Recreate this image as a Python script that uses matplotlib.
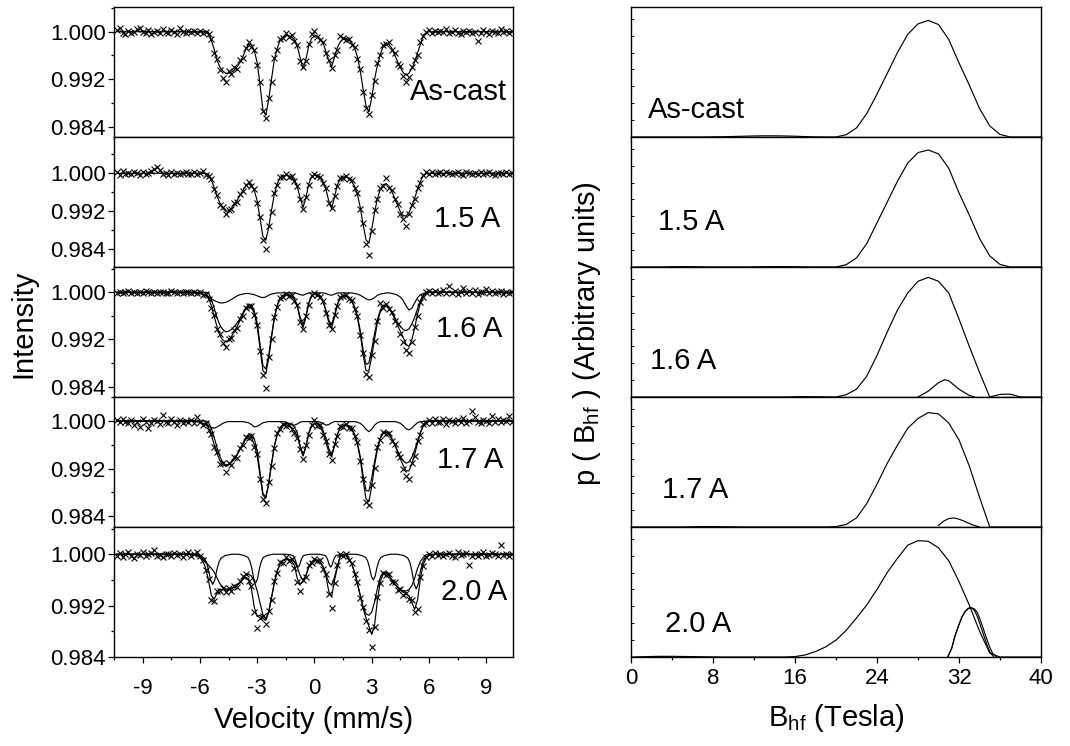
import numpy as np
import matplotlib
matplotlib.use("Agg")
import matplotlib.pyplot as plt
from matplotlib.ticker import MultipleLocator, FixedLocator, FormatStrFormatter

plt.rcParams['font.family'] = ['Liberation Sans', 'DejaVu Sans']
plt.rcParams['mathtext.fontset'] = 'custom'
plt.rcParams['mathtext.rm'] = 'Liberation Sans'
plt.rcParams['mathtext.it'] = 'Liberation Sans:italic'
plt.rcParams['axes.unicode_minus'] = False

# ---------------- data ----------------
samples = ["As-cast", "1.5 A", "1.6 A", "1.7 A", "2.0 A"]

# Velocity channels (mm/s); fit curves cover channels 26..112
velocity = np.linspace(-10.35, 10.35, 139)
FIT_A, FIT_B = 26, 113

# Absorption (1 - transmission) in units of 1e-4
ascast_data = [-3, -6, 2, 4, -2, 3, 1, -4, -7, 0, 2, -3, 4, 1, -2, 3, -5, 0, 2, -3, 1, 4, -6, 0, 2, -1] + [
    1, -2, 3, -1, 2, 0, 4, 13, 36, 46,
    64, 78, 84, 66, 72, 60, 63, 48, 45, 27,
    17, 26, 30, 56, 85, 134, 146, 111, 84, 44,
    31, 12, 11, 3, 9, 6, 16, 22, 49, 60,
    50, 21, 4, -1, 9, 14, 17, 36, 47, 62,
    40, 30, 8, 10, 14, 12, 22, 25, 46, 63,
    101, 128, 139, 106, 83, 52, 40, 23, 21, 18,
    31, 36, 54, 58, 74, 84, 77, 60, 48, 39,
    17, 8, 0, -3, 2, -1, 1] + [-2, 1, -4, 3, 0, -3, 2, 4, -1, 1, -2, 3, 0, 15, 2, -3, 1, 4, -2, 0, 3, -4, 1, -2, 2, -1]
ascast_fit = [
    0, 0, 0, 0, 0, 0, 1, 15, 30, 48,
    60, 66, 70, 70, 68, 65, 59, 52, 42, 30,
    21, 22, 32, 52, 90, 132, 141, 115, 80, 47,
    28, 14, 9, 6, 7, 9, 13, 24, 44, 62,
    47, 24, 11, 8, 7, 12, 19, 33, 49, 59,
    43, 27, 17, 13, 11, 14, 19, 27, 42, 66,
    97, 125, 135, 111, 80, 56, 38, 25, 19, 21,
    28, 39, 50, 61, 69, 73, 70, 62, 51, 36,
    21, 6, 2, 0, 0, 0, 0]

a15_data = [-2, 3, -4, 1, 0, 2, -3, -1, 4, -2, 1, 0, -5, -9, -14, -6, 2, 0, 3, -2, 1, -1, 2, 0, -3, 1] + [
    1, -2, 2, 0, -4, 3, 6, 12, 33, 45,
    66, 72, 85, 77, 76, 62, 60, 44, 38, 24,
    19, 27, 33, 62, 92, 140, 160, 112, 81, 42,
    25, 8, 7, 2, 7, 6, 17, 26, 55, 76,
    49, 24, 5, 1, 6, 7, 21, 31, 62, 73,
    47, 26, 9, 10, 5, 12, 15, 30, 41, 75,
    104, 148, 172, 121, 78, 55, 31, 26, 10, 30,
    36, 55, 64, 85, 96, 112, 86, 66, 55, 31,
    20, 3, -3, 1, -2, 2, 0] + [-3, 1, -2, 0, 2, -1, -3, 1, 3, -2, 0, 2, -1, 1, -3, 2, 0, -2, 1, 3, -1, 0, 2, -2, 1, 0]
a15_fit = [
    0, 0, 0, 0, 0, 0, 3, 14, 30, 48,
    63, 74, 80, 79, 74, 66, 57, 47, 36, 26,
    21, 24, 36, 58, 95, 133, 141, 115, 78, 44,
    22, 10, 6, 4, 5, 8, 14, 28, 52, 72,
    52, 22, 8, 4, 4, 9, 18, 34, 58, 74,
    50, 24, 12, 8, 7, 10, 17, 27, 44, 72,
    108, 140, 147, 118, 82, 53, 34, 24, 22, 27,
    38, 52, 67, 81, 89, 90, 83, 69, 52, 34,
    17, 5, 1, 0, 0, 0, 0]

a16_data = [1, -1, 2, 0, -2, 1, 0, 2, -1, 1, -2, 0, 1, -1, 2, 0, -1, 1, 2, -2, 0, 1, -1, 2, 0, -1] + [
    1, -1, 2, 0, 4, 3, 12, 26, 38, 62,
    70, 86, 93, 79, 77, 64, 61, 46, 40, 26,
    24, 23, 38, 55, 100, 140, 162, 110, 80, 42,
    25, 9, 8, 3, 6, 5, 14, 22, 50, 63,
    40, 21, 4, 1, 5, 8, 14, 35, 55, 63,
    39, 23, 8, 7, 4, 11, 13, 28, 41, 73,
    103, 138, 143, 106, 82, 49, 18, 26, 20, 28,
    33, 48, 54, 70, 84, 98, 103, 84, 58, 40,
    16, 8, 0, -2, 1, -3, 2] + [0, -4, 2, -10, 1, -3, 3, 0, -7, 2, -2, 1, -4, 3, -1, 0, -5, 2, -3, 1, 0, -2, 3, -1, 1, 0]
a16_fit = [
    0, 0, 1, 2, 3, 5, 9, 23, 41, 59,
    74, 81, 84, 81, 75, 67, 58, 48, 38, 28,
    23, 25, 36, 58, 96, 133, 138, 113, 77, 44,
    23, 11, 6, 4, 5, 7, 12, 24, 46, 60,
    43, 19, 7, 3, 3, 7, 16, 32, 51, 60,
    42, 21, 10, 6, 6, 9, 15, 26, 43, 70,
    106, 133, 133, 109, 79, 51, 33, 24, 22, 26,
    35, 45, 56, 66, 77, 88, 92, 81, 60, 37,
    18, 6, 2, 0, 0, 0, 0]
a16_main = [
    0, 0, 0, 0, 0, 0, 1, 12, 27, 43,
    56, 63, 67, 66, 63, 58, 52, 44, 35, 26,
    21, 22, 32, 52, 88, 124, 130, 108, 74, 42,
    22, 10, 5, 3, 4, 6, 11, 22, 42, 55,
    40, 18, 6, 2, 2, 6, 15, 30, 47, 55,
    39, 20, 9, 5, 5, 8, 14, 24, 40, 65,
    98, 122, 120, 97, 70, 46, 30, 22, 21, 25,
    33, 42, 51, 58, 63, 65, 62, 54, 42, 28,
    14, 4, 1, 0, 0, 0, 0]
a16_minor = [
    0, 0, 1, 2, 3, 5, 8, 11, 14, 16,
    18, 18, 17, 15, 12, 9, 6, 4, 3, 2,
    2, 3, 4, 6, 8, 9, 8, 5, 3, 2,
    1, 1, 1, 1, 1, 1, 1, 2, 4, 5,
    3, 1, 1, 1, 1, 1, 1, 2, 4, 5,
    3, 1, 1, 1, 1, 1, 1, 2, 3, 5,
    8, 11, 13, 12, 9, 5, 3, 2, 1, 1,
    2, 3, 5, 8, 14, 23, 30, 27, 18, 9,
    4, 2, 1, 0, 0, 0, 0]

a17_data = [-2, 2, -4, 1, 4, -1, 6, 2, 10, -3, 1, 12, 3, -2, 0, 5, -10, 2, 4, -3, 1, 6, -2, 3, 0, 2] + [
    -1, 3, -6, 1, 6, 3, 15, 22, 44, 52,
    73, 70, 86, 71, 74, 60, 62, 45, 41, 27,
    28, 25, 44, 56, 97, 131, 138, 103, 76, 45,
    20, 14, 5, 8, 6, 14, 20, 29, 47, 64,
    41, 24, 6, -1, 8, 7, 23, 33, 56, 66,
    39, 26, 9, 10, 5, 12, 12, 26, 36, 68,
    97, 136, 141, 107, 79, 44, 32, 18, 22, 20,
    33, 38, 56, 61, 80, 92, 97, 70, 59, 34,
    23, 5, 4, -2, 3, -4, 1] + [2, -3, 5, -1, 0, 4, -2, 1, -5, 3, 0, -16, -6, 2, 4, -1, 0, 3, -8, 1, -3, 2, -2, 0, -9, 1]
a17_fit = [
    0, 0, 1, 2, 4, 6, 11, 24, 40, 55,
    67, 74, 76, 74, 70, 64, 57, 48, 39, 31,
    25, 28, 40, 59, 92, 125, 130, 107, 73, 43,
    23, 12, 7, 6, 8, 12, 17, 25, 44, 59,
    44, 21, 9, 5, 5, 10, 20, 36, 52, 60,
    42, 23, 12, 8, 7, 9, 14, 23, 39, 64,
    100, 131, 136, 110, 75, 47, 29, 21, 19, 22,
    30, 40, 52, 64, 75, 84, 84, 73, 56, 37,
    20, 8, 2, 0, 0, 0, 0]
a17_main = [
    0, 0, 0, 0, 0, 0, 2, 13, 28, 45,
    60, 70, 74, 73, 69, 63, 56, 47, 38, 29,
    22, 22, 30, 50, 86, 122, 128, 106, 72, 42,
    22, 11, 6, 4, 4, 6, 10, 20, 42, 58,
    43, 20, 8, 4, 4, 8, 16, 29, 46, 57,
    41, 22, 11, 7, 6, 8, 13, 22, 37, 60,
    92, 117, 118, 96, 68, 44, 28, 20, 18, 21,
    29, 39, 50, 60, 67, 71, 69, 61, 49, 34,
    19, 7, 2, 0, 0, 0, 0]
a17_minor = [
    0, 0, 1, 2, 4, 6, 9, 11, 12, 10,
    7, 4, 2, 1, 1, 1, 1, 1, 1, 2,
    3, 6, 10, 9, 6, 3, 2, 1, 1, 1,
    1, 1, 1, 2, 4, 6, 7, 5, 2, 1,
    1, 1, 1, 1, 1, 2, 4, 7, 6, 3,
    1, 1, 1, 1, 1, 1, 1, 1, 2, 4,
    8, 14, 18, 14, 7, 3, 1, 1, 1, 1,
    1, 1, 2, 4, 8, 13, 15, 12, 7, 3,
    1, 1, 0, 0, 0, 0, 0]

a20_data = [3, -2, 5, 0, -3, 2, 6, -1, 1, -4, 3, 0, -2, -6, 2, 1, 4, 0, -1, 3, -2, 1, 0, 4, -1, -3] + [
    2, -1, -3, 3, 9, 25, 38, 72, 73, 57,
    58, 52, 59, 53, 57, 49, 51, 42, 34, 31,
    42, 50, 90, 115, 99, 96, 108, 88, 72, 41,
    29, 12, 13, 5, 10, 8, 21, 44, 58, 40,
    36, 17, 14, 7, 11, 9, 23, 31, 62, 84,
    45, 17, 0, 3, -1, 9, 13, 31, 43, 68,
    82, 104, 118, 145, 113, 66, 45, 29, 32, 30,
    44, 43, 56, 54, 63, 60, 69, 72, 90, 85,
    35, 19, 4, 0, 3, -2, 1] + [-1, 3, 0, -2, 2, 4, -3, 1, 0, -2, 17, 2, -1, 3, 0, -4, 2, 1, -2, 0, 3, -14, 1, -1, 2, 0]
a20_fit = [
    0, 0, 2, 5, 11, 21, 41, 64, 70, 60,
    55, 55, 56, 55, 53, 51, 48, 45, 39, 36,
    38, 54, 83, 97, 95, 100, 103, 91, 68, 44,
    26, 15, 10, 8, 8, 11, 17, 38, 47, 43,
    34, 20, 12, 9, 9, 12, 20, 34, 58, 66,
    41, 20, 3, 1, 2, 7, 15, 28, 46, 65,
    85, 99, 112, 125, 110, 71, 42, 31, 29, 33,
    40, 46, 52, 56, 59, 62, 65, 75, 86, 71,
    38, 16, 6, 2, 1, 0, 0]
a20_broad = [
    0, 0, 1, 3, 7, 12, 17, 22, 28, 37,
    46, 51, 54, 54, 53, 51, 48, 44, 38, 33,
    31, 34, 43, 57, 76, 94, 100, 90, 68, 44,
    26, 15, 10, 8, 8, 9, 12, 20, 33, 40,
    33, 20, 12, 9, 9, 12, 19, 31, 44, 48,
    36, 18, 3, 1, 2, 7, 15, 28, 45, 64,
    82, 93, 95, 90, 74, 53, 36, 28, 28, 33,
    40, 46, 51, 55, 57, 57, 55, 49, 37, 22,
    11, 5, 1, 0, 0, 0, 0]
# narrow sextet component of the 2.0 A sample (own velocity points)
a20_sharp_v = [-10.35,
    -6.32, -5.99, -5.77, -5.66, -5.55, -5.44, -5.33, -5.22, -5.11, -5.0, -4.89, -4.67, -4.34,
    -3.98, -3.68, -3.48, -3.38, -3.28, -3.18, -3.08, -2.98, -2.88, -2.78, -2.68, -2.48, -2.18,
    -1.48, -1.27, -1.13, -1.06, -0.99, -0.92, -0.85, -0.78, -0.71, -0.64, -0.57, -0.43, -0.22,
    0.22, 0.43, 0.57, 0.64, 0.71, 0.78, 0.85, 0.92, 0.99, 1.06, 1.13, 1.27, 1.48,
    2.18, 2.48, 2.68, 2.78, 2.88, 2.98, 3.08, 3.18, 3.28, 3.38, 3.48, 3.68, 3.98,
    4.34, 4.67, 4.89, 5.0, 5.11, 5.22, 5.33, 5.44, 5.55, 5.66, 5.77, 5.99, 6.32,
    10.35]
a20_sharp = [0,
    0, 2, 6, 12, 24, 40, 47, 40, 24, 12, 6, 2, 0,
    0, 2, 5, 11, 22, 38, 45, 38, 22, 11, 5, 2, 0,
    0, 1, 2, 5, 10, 17, 20, 17, 10, 5, 2, 1, 0,
    0, 1, 2, 5, 10, 17, 20, 17, 10, 5, 2, 1, 0,
    0, 2, 5, 10, 20, 34, 40, 34, 20, 10, 5, 2, 0,
    0, 2, 6, 13, 27, 46, 54, 46, 27, 13, 6, 2, 0,
    0]

# Hyperfine field distributions  p(B_hf), arbitrary units
bhf = np.arange(0, 41)
p_ascast = [0, 0, 0, 0, 0, 0, 0, 0, 0.001, 0.002, 0.004, 0.006, 0.008, 0.009, 0.009, 0.008, 0.006, 0.003, 0.001, 0, 0,
            0.018, 0.07, 0.18, 0.33, 0.49, 0.65, 0.79, 0.87, 0.897, 0.865, 0.75, 0.57, 0.40, 0.22, 0.085, 0.02, 0, 0, 0, 0]
p_15 = [0, 0, 0, 0, 0.002, 0.003, 0.002, 0.001, 0, 0, 0, 0, 0.001, 0.002, 0.003, 0.003, 0.002, 0.001, 0, 0, 0,
        0.018, 0.07, 0.18, 0.34, 0.50, 0.66, 0.80, 0.88, 0.90, 0.87, 0.76, 0.57, 0.40, 0.22, 0.085, 0.02, 0, 0, 0, 0]
p_16 = [0, 0, 0, 0, 0, 0, 0, 0, 0, 0, 0, 0, 0, 0, 0, 0, 0.002, 0.003, 0.002, 0.001, 0,
        0.018, 0.06, 0.16, 0.32, 0.50, 0.67, 0.80, 0.89, 0.92, 0.89, 0.80, 0.60, 0.39, 0.19, 0.0, 0.02, 0.022, 0, 0, 0]
p_16_b_b = [28, 29, 30, 30.6, 31, 32, 33, 33.5]
p_16_b = [0, 0.045, 0.11, 0.133, 0.125, 0.06, 0.012, 0]
p_17 = [0, 0, 0, 0, 0, 0, 0.002, 0.003, 0.003, 0.002, 0.001, 0, 0, 0, 0, 0, 0, 0, 0, 0, 0.003,
        0.02, 0.07, 0.18, 0.33, 0.49, 0.63, 0.76, 0.835, 0.88, 0.87, 0.80, 0.67, 0.47, 0.23, 0.0, 0, 0, 0, 0, 0]
p_17_b_b = [30, 30.5, 31, 31.5, 32, 32.5, 33, 33.5, 34]
p_17_b = [0.012, 0.045, 0.065, 0.07, 0.06, 0.045, 0.027, 0.012, 0.0]
p_20 = [0, 0.002, 0.004, 0.005, 0.005, 0.004, 0.003, 0.002, 0.001, 0, 0, 0, 0, 0, 0, 0, 0.003,
        0.016, 0.042, 0.078, 0.13, 0.205, 0.30, 0.40, 0.52, 0.65, 0.76, 0.86, 0.895, 0.89, 0.84, 0.74, 0.58,
        0.40, 0.20, 0.03, 0, 0, 0, 0, 0]
p_20_b_b = [30.9, 31.3, 31.6, 32.0, 32.3, 32.6, 32.9, 33.2, 33.5, 33.8, 34.1, 34.4, 34.7, 35.0, 35.4]
p_20_b = [0, 0.07, 0.16, 0.25, 0.31, 0.35, 0.375, 0.38, 0.36, 0.31, 0.24, 0.17, 0.10, 0.04, 0]
p_20_c_b = [30.9, 31.3, 31.6, 32.0, 32.3, 32.6, 32.9, 33.2, 33.5, 33.8, 34.1, 34.4, 34.7, 35.0, 35.3, 35.7]
p_20_c = [0, 0.07, 0.16, 0.25, 0.31, 0.35, 0.372, 0.378, 0.37, 0.34, 0.28, 0.21, 0.14, 0.075, 0.025, 0]

# ---------------- layout ----------------
W, H = 1070, 746
fig = plt.figure(figsize=(W / 100, H / 100), dpi=100)


def fx(px):
    return px / W


def fy(py):
    return 1 - py / H


def absorb_to_I(a):
    return 1 - np.asarray(a, float) * 1e-4


left_sets = [
    (ascast_data, [ascast_fit]),
    (a15_data, [a15_fit]),
    (a16_data, [a16_main, a16_minor, a16_fit]),
    (a17_data, [a17_main, a17_minor, a17_fit]),
    (a20_data, [a20_broad, a20_fit]),
]
left_ylims = [(0.98226, 1.00416), (0.98027, 1.00764), (0.98225, 1.00429),
              (0.98215, 1.00404), (0.984, 1.00424)]
left_label_pos = [(507, 100), (500, 227), (502, 337), (503, 468), (507, 600)]

right_sets = [
    [(bhf, p_ascast)],
    [(bhf, p_15)],
    [(bhf, p_16), (p_16_b_b, p_16_b)],
    [(bhf, p_17), (p_17_b_b, p_17_b)],
    [(bhf, p_20), (p_20_b_b, p_20_b), (p_20_c_b, p_20_c)],
]
right_label_pos = [(648, 118), (658, 230), (650, 369), (662, 498), (665, 632)]

LBL = 21
TCK = 16

for i in range(5):
    top = 7 + 130 * i
    bottom_frac = fy(top + 130)
    hfrac = 130 / H

    # ---- left: Mossbauer spectrum ----
    ax = fig.add_axes([fx(114), bottom_frac, 399 / W, hfrac])
    data, fits = left_sets[i]
    assert len(data) == 139
    ax.plot(velocity, absorb_to_I(data), linestyle='none', marker='x', ms=4.4,
            mew=0.8, color='black', zorder=2)
    for f in fits:
        assert len(f) == FIT_B - FIT_A
        full = [0] * FIT_A + list(f) + [0] * (139 - FIT_B)
        ax.plot(velocity, absorb_to_I(full), color='black', lw=0.85, zorder=3)
    if i == 4:
        assert len(a20_sharp_v) == len(a20_sharp)
        ax.plot(a20_sharp_v, absorb_to_I(a20_sharp), color='black', lw=0.85, zorder=3)
    ax.set_xlim(-10.5, 10.4)
    ax.set_ylim(*left_ylims[i])
    ax.xaxis.set_major_locator(MultipleLocator(3))
    ax.xaxis.set_minor_locator(MultipleLocator(1.5))
    ax.yaxis.set_major_locator(FixedLocator([0.984, 0.992, 1.000]))
    ax.yaxis.set_minor_locator(FixedLocator([0.988, 0.996, 1.004]))
    ax.yaxis.set_major_formatter(FormatStrFormatter('%.3f'))
    ax.tick_params(axis='x', which='both', direction='out', top=False, bottom=True,
                   labelbottom=(i == 4), labelsize=TCK, pad=11, width=0.9)
    ax.tick_params(axis='x', which='major', length=4)
    ax.tick_params(axis='x', which='minor', length=2.5)
    ax.tick_params(axis='y', which='both', direction='out', left=True, right=False,
                   labelsize=TCK, pad=2, width=0.9)
    ax.tick_params(axis='y', which='major', length=4)
    ax.tick_params(axis='y', which='minor', length=2.5)
    for s in ax.spines.values():
        s.set_linewidth(1.0)
    lx, ly = left_label_pos[i]
    fig.text(fx(lx), fy(ly), samples[i], fontsize=LBL, ha='right', va='baseline')

    # ---- right: field distribution ----
    axr = fig.add_axes([fx(631), bottom_frac, 410 / W, hfrac])
    for bx, by in right_sets[i]:
        axr.plot(bx, by, color='black', lw=0.85)
    axr.set_xlim(0, 40)
    axr.set_ylim(0, 1)
    axr.xaxis.set_major_locator(MultipleLocator(8))
    axr.xaxis.set_minor_locator(MultipleLocator(4))
    axr.yaxis.set_major_locator(MultipleLocator(0.13))
    axr.tick_params(axis='x', which='both', direction='out', top=False, bottom=True,
                    labelbottom=(i == 4), labelsize=TCK, pad=4, width=0.9)
    axr.tick_params(axis='x', which='major', length=4)
    axr.tick_params(axis='x', which='minor', length=2.5)
    axr.tick_params(axis='y', which='both', direction='in', left=True, right=False,
                    labelleft=False, length=2, width=0.7)
    for s in axr.spines.values():
        s.set_linewidth(1.0)
    rx, ry = right_label_pos[i]
    fig.text(fx(rx), fy(ry), samples[i], fontsize=LBL, ha='left', va='baseline')

# axis titles
fig.text(fx(23), fy(324), "Intensity", fontsize=LBL, rotation=90, ha='center', va='center')
fig.text(fx(314), fy(720), "Velocity (mm/s)", fontsize=LBL, ha='center', va='center')
fig.text(fx(836), fy(718), r"B$_{\mathrm{hf}}$ (Tesla)", fontsize=LBL, ha='center', va='center')
fig.text(fx(587), fy(334), r"p ( B$_{\mathrm{hf}}$ ) (Arbitrary units)", fontsize=LBL,
         rotation=90, ha='center', va='center')

fig.savefig("out.png", dpi=100)
